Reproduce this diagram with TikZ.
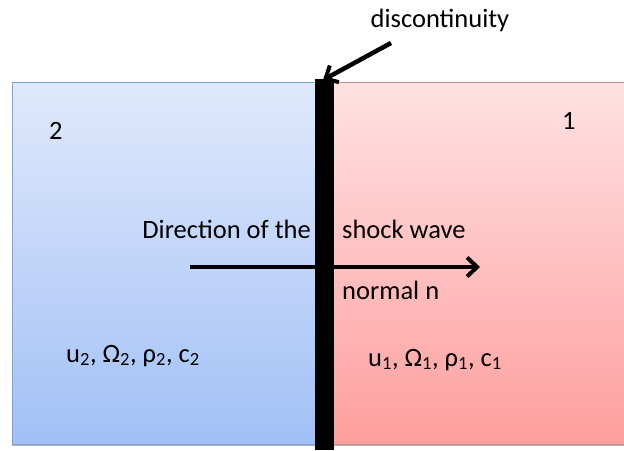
\documentclass[tikz,border=0pt]{standalone}
\usepackage{fontspec}
\setmainfont{Carlito}
\usetikzlibrary{arrows.meta}
\definecolor{bluetop}{HTML}{DFE9FB}
\definecolor{bluebot}{HTML}{A2C0F6}
\definecolor{redtop}{HTML}{FFE2E2}
\definecolor{redbot}{HTML}{FF9E9E}
\definecolor{blueedge}{HTML}{7EA2DA}
\definecolor{rededge}{HTML}{D08A8A}
\tikzset{
  lbl/.style={inner sep=0pt, font=\fontsize{26.5}{30}\selectfont},
  arr/.style={line width=4.5pt, -{Straight Barb[length=10pt,width=19pt,line width=4pt]}}
}
\begin{document}
\begin{tikzpicture}[x=1pt,y=-1pt]
\useasboundingbox (0,0) rectangle (624,450);
% regions
\path[top color=bluetop, bottom color=bluebot, draw=blueedge, line width=0.8pt] (12,82) rectangle (318,444);
\path[top color=redtop, bottom color=redbot, draw=rededge, line width=0.8pt] (332,82) rectangle (624,444);
\draw[gray!60, line width=1pt] (12,445.5) -- (624,445.5);
% arrow of direction
\coordinate (a0) at (190,267);
\coordinate (a1) at (480,267);
\draw[arr] (a0) -- (a1);
% discontinuity bar
\fill[black] (315,79) rectangle (334,450);
\coordinate (bartop) at (323,80);
% labels
\node[lbl, anchor=base] (disc) at (440,27) {discontinuity};
\coordinate (dstart) at (391,43);
\draw[arr] (dstart) -- (bartop);
\node[lbl, anchor=base west] (two) at (49,139) {2};
\node[lbl, anchor=base west] (one) at (562,129) {1};
\node[lbl, anchor=base east] (dir) at (311,238) {Direction of the};
\node[lbl, anchor=base west] (shock) at (342,238) {shock wave};
\node[lbl, anchor=base west] (norm) at (342,299) {normal n};
\node[lbl, anchor=base west] (st2) at (66,362) {u$_{\mathrm{2}}$, Ω$_{\mathrm{2}}$, ρ$_{\mathrm{2}}$, c$_{\mathrm{2}}$};
\node[lbl, anchor=base west] (st1) at (368,366) {u$_{\mathrm{1}}$, Ω$_{\mathrm{1}}$, ρ$_{\mathrm{1}}$, c$_{\mathrm{1}}$};
\end{tikzpicture}
\end{document}
